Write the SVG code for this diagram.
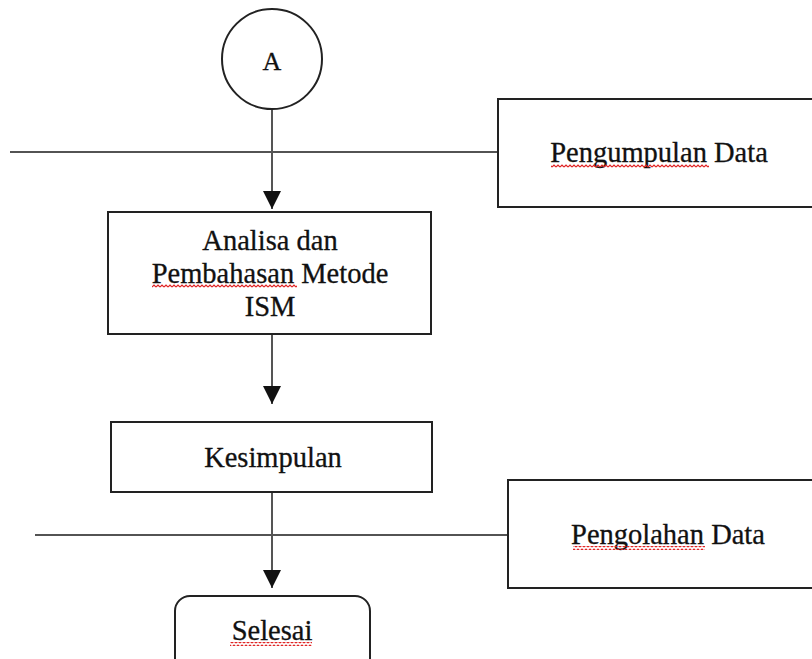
<svg xmlns="http://www.w3.org/2000/svg" width="812" height="659" viewBox="0 0 812 659">
  <style>
    .box { fill: #ffffff; stroke: #222222; stroke-width: 2; }
    .lbl { font-family: "Liberation Serif", "Times New Roman", serif; font-size: 28.5px; fill: #111111; stroke: #111111; stroke-width: 0.3; text-anchor: middle; }
    .line { stroke: #1a1a1a; stroke-width: 1.6; fill: none; }
    .conn { stroke: #555555; stroke-width: 2; fill: none; }
    .sq { fill: url(#squiggle); }
  </style>
  <defs>
    <marker id="arrow" viewBox="0 0 10 10" refX="10" refY="5" markerUnits="userSpaceOnUse" markerWidth="18" markerHeight="19" orient="auto">
      <path d="M0,0 L10,5 L0,10 Z" fill="#111111"/>
    </marker>
    <pattern id="squiggle" patternUnits="userSpaceOnUse" width="4" height="4">
      <path d="M0 3 L2 1 L4 3" stroke="#e02020" stroke-width="1.2" fill="none"/>
    </pattern>
  </defs>

  <rect width="812" height="659" fill="#ffffff"/>

  <g id="connectors">
    <line class="line" x1="10" y1="152" x2="497" y2="152"/>
    <line class="line" x1="35" y1="535" x2="508" y2="535"/>
    <line class="conn" x1="272" y1="109" x2="272" y2="209" marker-end="url(#arrow)"/>
    <line class="conn" x1="272" y1="334" x2="272" y2="404" marker-end="url(#arrow)"/>
    <line class="conn" x1="272" y1="492" x2="272" y2="588" marker-end="url(#arrow)"/>
  </g>

  <g id="node-a">
    <circle cx="272" cy="59" r="50" fill="#ffffff" stroke="#222222" stroke-width="2"/>
    <text class="lbl" x="272" y="70" style="font-size:26px">A</text>
  </g>

  <g id="node-pengumpulan">
    <rect class="box" x="498" y="99" width="320" height="108"/>
    <text class="lbl" x="659" y="162">Pengumpulan Data</text>
    <rect class="sq" x="551" y="164" width="158" height="4"/>
  </g>

  <g id="node-analisa">
    <rect class="box" x="108" y="212" width="323" height="122"/>
    <text class="lbl" x="270" y="250">Analisa dan</text>
    <text class="lbl" x="270" y="283">Pembahasan Metode</text>
    <text class="lbl" x="270" y="316">ISM</text>
    <rect class="sq" x="152" y="284" width="145" height="4"/>
  </g>

  <g id="node-kesimpulan">
    <rect class="box" x="111" y="422" width="321" height="70"/>
    <text class="lbl" x="273" y="467">Kesimpulan</text>
  </g>

  <g id="node-pengolahan">
    <rect class="box" x="508" y="480" width="310" height="108"/>
    <text class="lbl" x="668" y="544">Pengolahan Data</text>
    <rect class="sq" x="573" y="546" width="132" height="4"/>
  </g>

  <g id="node-selesai">
    <rect class="box" x="175" y="596" width="195" height="80" rx="15" ry="15"/>
    <text class="lbl" x="272" y="640">Selesai</text>
    <rect class="sq" x="230" y="642" width="82" height="4"/>
  </g>
</svg>
